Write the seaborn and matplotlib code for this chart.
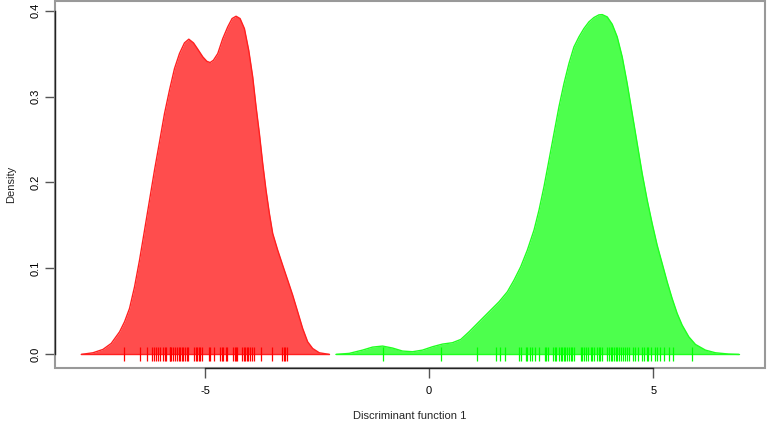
import numpy as np
import matplotlib
matplotlib.use("Agg")
import matplotlib.pyplot as plt
import seaborn as sns
from matplotlib.patches import Rectangle

# Density curves (discriminant function 1 value, density)
red_x = [-7.758, -7.498, -7.275, -7.090, -6.904, -6.793, -6.682, -6.570, -6.459, -6.347,
         -6.236, -6.125, -6.013, -5.902, -5.791, -5.679, -5.568, -5.457, -5.360, -5.256,
         -5.160, -5.048, -4.959, -4.885, -4.811, -4.714, -4.603, -4.492, -4.395, -4.306,
         -4.217, -4.120, -4.024, -3.935, -3.860, -3.786, -3.712, -3.638, -3.563, -3.489,
         -3.378, -3.267, -3.155, -3.044, -2.932, -2.821, -2.710, -2.598, -2.450, -2.227]
red_d = [0.0, 0.0019, 0.0058, 0.0128, 0.0263, 0.0380, 0.0535, 0.0787, 0.1097, 0.1446,
         0.1795, 0.2144, 0.2473, 0.2802, 0.3074, 0.3326, 0.3500, 0.3624, 0.3667, 0.3624,
         0.3550, 0.3461, 0.3410, 0.3395, 0.3422, 0.3500, 0.3674, 0.3810, 0.3907, 0.3934,
         0.3907, 0.3790, 0.3538, 0.3228, 0.2880, 0.2569, 0.2221, 0.1910, 0.1639, 0.1407,
         0.1213, 0.1038, 0.0864, 0.0690, 0.0496, 0.0302, 0.0147, 0.0069, 0.0019, 0.0]

green_x = [-2.079, -1.782, -1.485, -1.262, -1.039, -0.817, -0.594, -0.371, -0.148, 0.074,
           0.297, 0.520, 0.705, 0.891, 1.114, 1.336, 1.559, 1.745, 1.893, 2.042,
           2.190, 2.339, 2.450, 2.561, 2.673, 2.784, 2.895, 3.007, 3.118, 3.229,
           3.341, 3.452, 3.563, 3.675, 3.786, 3.860, 3.972, 4.083, 4.194, 4.306,
           4.417, 4.529, 4.640, 4.751, 4.863, 4.974, 5.085, 5.197, 5.308, 5.419,
           5.531, 5.642, 5.791, 5.939, 6.162, 6.385, 6.682, 6.904]
green_d = [0.0, 0.0012, 0.0050, 0.0085, 0.0097, 0.0074, 0.0039, 0.0031, 0.0050, 0.0089,
           0.0120, 0.0136, 0.0174, 0.0263, 0.0380, 0.0496, 0.0612, 0.0729, 0.0864, 0.1019,
           0.1213, 0.1446, 0.1678, 0.1950, 0.2260, 0.2570, 0.2880, 0.3151, 0.3384, 0.3577,
           0.3694, 0.3791, 0.3868, 0.3919, 0.3950, 0.3953, 0.3926, 0.3841, 0.3694, 0.3461,
           0.3151, 0.2802, 0.2453, 0.2105, 0.1795, 0.1523, 0.1271, 0.1058, 0.0845, 0.0651,
           0.0477, 0.0341, 0.0205, 0.0116, 0.0050, 0.0019, 0.0004, 0.0]

# Individual scores drawn as ticks on the baseline
red_scores = [-6.81, -6.45, -6.30, -6.18, -6.14, -6.09, -6.05, -6.01, -5.94, -5.90,
              -5.86, -5.79, -5.77, -5.75, -5.72, -5.67, -5.63, -5.59, -5.55, -5.52,
              -5.48, -5.44, -5.41, -5.38, -5.24, -5.21, -5.18, -5.14, -5.11, -5.06,
              -4.92, -4.88, -4.80, -4.66, -4.63, -4.59, -4.54, -4.51, -4.38, -4.34,
              -4.31, -4.28, -4.17, -4.14, -4.10, -4.07, -4.03, -4.00, -3.96, -3.90,
              -3.75, -3.50, -3.28, -3.24, -3.21, -3.18]
green_scores = [-1.04, 0.27, 1.06, 1.48, 1.58, 1.69, 2.00, 2.04, 2.15, 2.19,
                2.26, 2.30, 2.35, 2.44, 2.58, 2.61, 2.66, 2.76, 2.80, 2.84,
                2.90, 2.93, 2.97, 3.01, 3.04, 3.08, 3.12, 3.16, 3.19, 3.23,
                3.38, 3.41, 3.46, 3.50, 3.55, 3.60, 3.64, 3.67, 3.75, 3.79,
                3.82, 3.86, 3.97, 4.01, 4.05, 4.08, 4.12, 4.16, 4.20, 4.23,
                4.28, 4.32, 4.37, 4.41, 4.45, 4.55, 4.59, 4.66, 4.75, 4.79,
                4.85, 4.88, 4.94, 5.03, 5.08, 5.14, 5.23, 5.35, 5.43, 5.86]

x_ticks = [-5, 0, 5]
y_ticks = [0.0, 0.1, 0.2, 0.3, 0.4]
y_tick_labels = ["0.0", "0.1", "0.2", "0.3", "0.4"]

sns.set_style("white")
plt.rcParams['font.family'] = ['Liberation Sans', 'DejaVu Sans']
plt.rcParams['xtick.bottom'] = True
plt.rcParams['ytick.left'] = True
plt.rcParams['xtick.major.size'] = 7
plt.rcParams['ytick.major.size'] = 7

fig = plt.figure(figsize=(7.67, 4.23), dpi=100)
ax = fig.add_axes([55 / 767, 55 / 423, 710 / 767, 367 / 423])

groups = [
    (red_x, red_d, red_scores, "#ff4d4d", "#ff2020", "#ff0000"),
    (green_x, green_d, green_scores, "#4dff4d", "#20ff20", "#00ff00"),
]
for gx, gd, scores, fill, edge, tick in groups:
    ax.fill_between(gx, gd, 0, color=fill, linewidth=0, zorder=1)
    sns.lineplot(x=gx, y=gd, color=edge, linewidth=1.0, ax=ax, zorder=2)
    ax.plot([gx[0], gx[-1]], [0, 0], color=edge, linewidth=1.0, zorder=2)
    sns.scatterplot(x=scores, y=[0] * len(scores), marker="|", s=110,
                    linewidth=0.9, color=tick, ax=ax, zorder=3)

# R-style axis extension (4% each side)
xmin, xmax = min(red_x + green_x), max(red_x + green_x)
ymax = max(red_d + green_d)
xpad = 0.04 * (xmax - xmin)
ypad = 0.04 * ymax
ax.set_xlim(xmin - xpad, xmax + xpad)
ax.set_ylim(-ypad, ymax + ypad)

ax.set_xticks(x_ticks)
ax.set_xticklabels([str(t) for t in x_ticks])
ax.set_yticks(y_ticks)
ax.set_yticklabels(y_tick_labels, rotation=90, va="center")
ax.tick_params(axis="both", which="major", direction="out", length=7, width=1.0,
               bottom=True, left=True,
               color="#555555", labelsize=8, labelcolor="black")
ax.tick_params(axis="x", pad=6)
ax.tick_params(axis="y", pad=3)

ax.set_xlabel("Discriminant function 1", fontsize=8, labelpad=11)
ax.set_ylabel("Density", fontsize=8, labelpad=11)

# gray box plus black axis lines over the tick range
for side in ["top", "right"]:
    ax.spines[side].set_visible(False)
ax.spines["bottom"].set_bounds(x_ticks[0], x_ticks[-1])
ax.spines["left"].set_bounds(y_ticks[0], y_ticks[-1])
for side in ["bottom", "left"]:
    ax.spines[side].set_color("#222222")
    ax.spines[side].set_linewidth(1.0)
ax.add_patch(Rectangle((0, 0), 1, 1, transform=ax.transAxes, fill=False,
                       edgecolor="#999999", linewidth=1.5, clip_on=False, zorder=2.4))

if ax.get_legend() is not None:
    ax.get_legend().remove()

fig.savefig("out.png", dpi=100)
